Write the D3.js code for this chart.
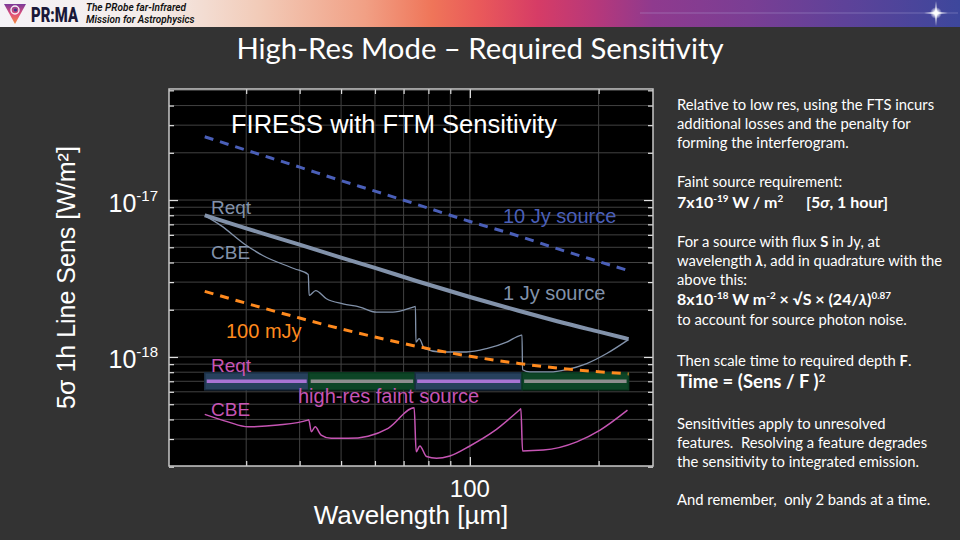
<!DOCTYPE html>
<html><head><meta charset="utf-8">
<script src="https://cdn.jsdelivr.net/npm/d3@7"></script>
<style>body{margin:0;background:#333;} text{font-family:"Liberation Sans",Arial,sans-serif;}</style>
</head><body>
<svg id="c" width="960" height="540"></svg>
<script>
// ---------------- DATA ----------------
const srcLambda = [24, 30, 40, 50, 60, 75, 100, 130, 160, 200, 235];
const src10Jy   = [2.53e-17, 2.08e-17, 1.62e-17, 1.33e-17, 1.14e-17, 9.4e-18, 7.3e-18, 5.9e-18, 4.9e-18, 4.06e-18, 3.55e-18];
const src1Jy    = [8.0e-18, 6.6e-18, 5.2e-18, 4.3e-18, 3.7e-18, 3.05e-18, 2.41e-18, 1.97e-18, 1.69e-18, 1.45e-18, 1.3e-18];
const src100mJy = [2.62e-18, 2.2e-18, 1.77e-18, 1.51e-18, 1.34e-18, 1.17e-18, 1.01e-18, 9.1e-19, 8.5e-19, 8.06e-19, 7.8e-19];

const cbeBrightLambda = [24, 26.2, 29.7, 32.8, 38.9, 41.9, 42.1, 43.6, 46.2, 50.5, 55.3, 60.4, 66.1, 73.7, 74.6, 74.8, 76.1, 78.4, 85.1, 98.2, 109.4, 121.9, 131.5, 132.4, 132.8, 138.2, 153.9, 168.5, 187.6, 208.9, 234.8];
const cbeBrightSens   = [7.95e-18, 6.87e-18, 5.25e-18, 4.43e-18, 3.65e-18, 3.35e-18, 2.47e-18, 2.65e-18, 2.35e-18, 2.18e-18, 2.08e-18, 1.93e-18, 1.93e-18, 2.08e-18, 2.1e-18, 1.245e-18, 1.31e-18, 1.13e-18, 1.076e-18, 1.076e-18, 1.13e-18, 1.245e-18, 1.375e-18, 1.38e-18, 8.3e-19, 8.03e-19, 8.03e-19, 8.32e-19, 9.08e-19, 1.052e-18, 1.29e-18];

const cbeFaintLambda = [24, 27.2, 30.3, 35.6, 41.8, 42.0, 42.6, 43.5, 44.9, 47.4, 51.9, 57.8, 64.4, 74.1, 74.9, 76.4, 79.2, 83.6, 89.8, 100, 113.4, 131.0, 131.6, 132.8, 148.5, 177.8, 201.6, 233.6];
const cbeFaintSens   = [4.31e-19, 3.86e-19, 3.59e-19, 3.68e-19, 3.96e-19, 3.98e-19, 3.34e-19, 3.59e-19, 3.18e-19, 3.03e-19, 3.03e-19, 3.13e-19, 3.51e-19, 4.74e-19, 2.49e-19, 2.71e-19, 2.32e-19, 2.26e-19, 2.34e-19, 2.71e-19, 3.34e-19, 4.63e-19, 4.68e-19, 2.52e-19, 2.55e-19, 2.88e-19, 3.42e-19, 4.58e-19];

const bandStart = [24, 42, 74.5, 132.5];
const bandEnd   = [42, 74.5, 132.5, 235];
const bandReqt  = 7e-19;

const xTicksMajor = [100];
const xTicksMinor = [30, 40, 50, 60, 70, 80, 90, 200];
const yTicksMajor = [1e-18, 1e-17];
const yTicksMinor = [2e-19, 3e-19, 4e-19, 5e-19, 6e-19, 7e-19, 8e-19, 9e-19, 2e-18, 3e-18, 4e-18, 5e-18, 6e-18, 7e-18, 8e-18, 9e-18, 2e-17, 3e-17, 4e-17, 5e-17];
const yTickLabels = ["-18", "-17"];

// ---------------- SETUP ----------------
const svg = d3.select("#c");
const L = 169, R = 653, T = 89, B = 466;
const x = d3.scaleLog().domain([19.8, 268]).range([L, R]);
const y = d3.scaleLog().domain([2.02e-19, 5.1e-17]).range([B, T]);

svg.append("rect").attr("width", 960).attr("height", 540).attr("fill", "#333333");

// header gradient
const defs = svg.append("defs");
const hg = defs.append("linearGradient").attr("id", "hdr").attr("x1", 0).attr("x2", 1).attr("y1", 0).attr("y2", 0);
[[0, "#f5f3f7"], [0.16, "#f4ece9"], [0.27, "#f2cbb8"], [0.38, "#f1a085"], [0.45, "#ef7559"], [0.5, "#e9595a"], [0.56, "#d63c66"], [0.62, "#b7387a"], [0.68, "#8f3a8e"], [0.78, "#7a3e94"], [0.88, "#5e4299"], [1, "#3d479c"]]
  .forEach(([o, c]) => hg.append("stop").attr("offset", o).attr("stop-color", c));
svg.append("rect").attr("width", 960).attr("height", 27).attr("fill", "url(#hdr)");

// logo
const lg = defs.append("linearGradient").attr("id", "logo").attr("x1", 0).attr("x2", 0).attr("y1", 0).attr("y2", 1);
lg.append("stop").attr("offset", 0).attr("stop-color", "#7a3a9a");
lg.append("stop").attr("offset", 0.5).attr("stop-color", "#e0507a");
lg.append("stop").attr("offset", 1).attr("stop-color", "#f28a3c");
svg.append("path").attr("d", "M4,4 L26,4 L15,24 Z").attr("fill", "url(#logo)");
svg.append("circle").attr("cx", 15).attr("cy", 10).attr("r", 4).attr("fill", "none").attr("stroke", "#f5f0f5").attr("stroke-width", 1.4);
svg.append("circle").attr("cx", 15.5).attr("cy", 10).attr("r", 1.6).attr("fill", "#3a3a8a");
svg.append("text").attr("x", 31).attr("y", 22).attr("fill", "#1a1838")
  .style("font-family", "Roboto").style("font-weight", 900).style("font-size", "20px")
  .attr("textLength", 47).attr("lengthAdjust", "spacingAndGlyphs").text("PR:MA");
svg.append("text").attr("x", 86).attr("y", 11).attr("fill", "#111").style("font-style", "italic").style("font-weight", 600)
  .style("font-family", "Roboto").style("font-size", "10px").text("The PRobe far-Infrared");
svg.append("text").attr("x", 86).attr("y", 23).attr("fill", "#111").style("font-style", "italic").style("font-weight", 600)
  .style("font-family", "Roboto").style("font-size", "10px").text("Mission for Astrophysics");

// star
svg.append("line").attr("x1", 640).attr("x2", 958).attr("y1", 13).attr("y2", 13).attr("stroke", "#b8b4e0").attr("stroke-opacity", 0.45).attr("stroke-width", 0.8);
const rg = defs.append("radialGradient").attr("id", "star");
rg.append("stop").attr("offset", 0).attr("stop-color", "#ffffff");
rg.append("stop").attr("offset", 0.35).attr("stop-color", "#ffffff").attr("stop-opacity", 0.9);
rg.append("stop").attr("offset", 1).attr("stop-color", "#ffffff").attr("stop-opacity", 0);
svg.append("circle").attr("cx", 936).attr("cy", 13).attr("r", 6).attr("fill", "url(#star)");
svg.append("path").attr("d", "M936,1 L937,12 L948,13 L937,14 L936,26 L935,14 L924,13 L935,12 Z").attr("fill", "#fff").attr("opacity", 0.9);

// title
svg.append("text").attr("x", 480).attr("y", 59).attr("text-anchor", "middle").attr("fill", "#ffffff")
  .style("font-family", "Lato").style("font-size", "29.3px").text("High-Res Mode \u2013 Required Sensitivity");

// plot background
const g = svg.append("g");
g.append("rect").attr("x", L).attr("y", T).attr("width", R - L).attr("height", B - T).attr("fill", "#000");

// grid
const gridCol = "#424242";
g.selectAll(".vg").data(xTicksMinor.concat(xTicksMajor)).join("line")
  .attr("x1", d => x(d)).attr("x2", d => x(d)).attr("y1", T).attr("y2", B).attr("stroke", gridCol).attr("stroke-width", 1);
g.selectAll(".hg").data(yTicksMinor.concat(yTicksMajor)).join("line")
  .attr("y1", d => y(d)).attr("y2", d => y(d)).attr("x1", L).attr("x2", R).attr("stroke", gridCol).attr("stroke-width", 1);

// axes (inward ticks)
const allX = xTicksMinor.concat(xTicksMajor), allY = yTicksMinor.concat(yTicksMajor);
const isMajX = d => xTicksMajor.includes(d), isMajY = d => yTicksMajor.some(v => Math.abs(v - d) / v < 1e-6);
function styleAxis(sel, attr, sign, major) {
  sel.select(".domain").remove();
  sel.selectAll(".tick line").attr("stroke", "#e0e0e0").attr("stroke-width", 1.2).attr(attr, d => sign * (major(d) ? 9 : 5));
  sel.selectAll(".tick text").remove();
}
g.append("g").attr("transform", `translate(0,${B})`).call(d3.axisBottom(x).tickValues(allX)).call(s => styleAxis(s, "y2", -1, isMajX));
g.append("g").attr("transform", `translate(0,${T})`).call(d3.axisTop(x).tickValues(allX)).call(s => styleAxis(s, "y2", 1, isMajX));
g.append("g").attr("transform", `translate(${L},0)`).call(d3.axisLeft(y).tickValues(allY)).call(s => styleAxis(s, "x2", 1, isMajY));
g.append("g").attr("transform", `translate(${R},0)`).call(d3.axisRight(y).tickValues(allY)).call(s => styleAxis(s, "x2", -1, isMajY));

// bands
const bands = bandStart.map((s, i) => ({ s, e: bandEnd[i], i }));
g.selectAll(".band").data(bands).join("rect")
  .attr("x", d => x(d.s)).attr("width", d => x(d.e) - x(d.s))
  .attr("y", y(bandReqt) - 8.5).attr("height", 17)
  .attr("fill", d => d.i % 2 === 0 ? "#27415d" : "#0d4526")
  .attr("stroke", d => d.i % 2 === 0 ? "#1b2e44" : "#0a3a20").attr("stroke-width", 1.5);
g.selectAll(".bandline").data(bands).join("line")
  .attr("x1", d => x(d.s) + 2).attr("x2", d => x(d.e) - 2)
  .attr("y1", y(bandReqt)).attr("y2", y(bandReqt))
  .attr("stroke", d => d.i % 2 === 0 ? "#a874d4" : "#8e8e8e").attr("stroke-width", 3.5);

// lines
const curve = d3.line().x(d => x(d[0])).y(d => y(d[1])).curve(d3.curveMonotoneX);
const zip = (a, b) => a.map((v, i) => [v, b[i]]);
const slate = "#8292aa";

g.append("path").datum(zip(cbeFaintLambda, cbeFaintSens)).attr("d", curve).attr("fill", "none").attr("stroke", "#c655b4").attr("stroke-width", 1.5);
g.append("path").datum(zip(cbeBrightLambda, cbeBrightSens)).attr("d", curve).attr("fill", "none").attr("stroke", slate).attr("stroke-width", 1.3);
g.append("path").datum(zip(srcLambda, src1Jy)).attr("d", curve).attr("fill", "none").attr("stroke", slate).attr("stroke-width", 4);
g.append("path").datum(zip(srcLambda, src10Jy)).attr("d", curve).attr("fill", "none").attr("stroke", "#4a5fb8").attr("stroke-width", 3).attr("stroke-dasharray", "9,7");
g.append("path").datum(zip(srcLambda, src100mJy)).attr("d", curve).attr("fill", "none").attr("stroke", "#ff8a1e").attr("stroke-width", 3).attr("stroke-dasharray", "9,7");

// frame
g.append("rect").attr("x", L).attr("y", T).attr("width", R - L).attr("height", B - T).attr("fill", "none").attr("stroke", "#c8c8c8").attr("stroke-width", 1.5);

// in-plot labels
const lab = (t, xx, yy, col, fs) => g.append("text").attr("x", xx).attr("y", yy).attr("fill", col).style("font-size", fs + "px").text(t);
lab("FIRESS with FTM Sensitivity", 231, 133, "#ffffff", 25.5);
lab("10 Jy source", 503, 223, "#4a5fb8", 20);
lab("Reqt", 211, 214, slate, 19);
lab("CBE", 211, 259, slate, 19);
lab("1 Jy source", 503, 300, slate, 20);
lab("100 mJy", 226, 338, "#ff8a1e", 20);
lab("Reqt", 211, 372, "#c655b4", 19);
lab("high-res faint source", 298, 403, "#c655b4", 20);
lab("CBE", 211, 416, "#c655b4", 19);

// axis labels
yTicksMajor.forEach((v, i) => {
  const t = svg.append("text").attr("x", 158).attr("y", y(v) + 11.5).attr("text-anchor", "end").attr("fill", "#fff").style("font-size", "25px");
  t.append("tspan").text("10");
  t.append("tspan").attr("dy", -11).style("font-size", "15px").text(yTickLabels[i]);
});
xTicksMajor.forEach(v => svg.append("text").attr("x", x(v)).attr("y", 497).attr("text-anchor", "middle").attr("fill", "#fff").style("font-size", "24px").text(String(v)));
svg.append("text").attr("x", (L + R) / 2).attr("y", 524).attr("text-anchor", "middle").attr("fill", "#fff").style("font-size", "26px").text("Wavelength [\u00b5m]");
svg.append("text").attr("transform", `translate(75,${(T + B) / 2}) rotate(-90)`).attr("text-anchor", "middle").attr("fill", "#fff").style("font-size", "25px").text("5\u03c3 1h Line Sens [W/m\u00b2]");

// right text block
const tx = 677;
const rt = svg.append("g").style("fill", "#ffffff");
function rich(yy, segs, fs, bold) {
  const t = rt.append("text").attr("x", tx).attr("y", yy).style("font-family", "Lato").style("font-size", fs + "px")
    .style("font-weight", bold ? 700 : 400).style("white-space", "pre").attr("fill", "#fff");
  segs.forEach(s => {
    if (typeof s === "string") { t.append("tspan").text(s); return; }
    const ts = t.append("tspan").text(s.t);
    if (s.sup) ts.attr("baseline-shift", "super").style("font-size", (fs * 0.62) + "px");
    if (s.b) ts.style("font-weight", 700);
    if (s.i) ts.style("font-style", "italic");
    if (s.x) ts.attr("x", s.x);
  });
  return t;
}
const fs = 14.8;
rich(110, ["Relative to low res, using the FTS incurs"], fs);
rich(129, ["additional losses and the penalty for"], fs);
rich(148, ["forming the interferogram."], fs);
rich(187, ["Faint source requirement:"], fs);
rich(208, ["7x10", { t: "-19", sup: 1 }, " W / m", { t: "2", sup: 1 }, { t: "[5", x: 806 }, { t: "\u03c3", i: 1 }, ", 1 hour]"], 16, true);
rich(247, ["For a source with flux ", { t: "S", b: 1 }, " in Jy, at"], fs);
rich(266, ["wavelength ", { t: "\u03bb", b: 1, i: 1 }, ", add in quadrature with the"], fs);
rich(285, ["above this:"], fs);
rich(305, ["8x10", { t: "-18", sup: 1 }, " W m", { t: "-2", sup: 1 }, " \u00d7 \u221aS \u00d7 (24/", { t: "\u03bb", i: 1 }, ")", { t: "0.87", sup: 1 }], 16, true);
rich(325, ["to account for source photon noise."], fs);
rich(366, ["Then scale time to required depth ", { t: "F", b: 1 }, "."], fs);
rich(388, ["Time = (Sens / F )", { t: "2", sup: 1 }], 18.5, true);
rich(429, ["Sensitivities apply to unresolved"], fs);
rich(448, ["features.  Resolving a feature degrades"], fs);
rich(467, ["the sensitivity to integrated emission."], fs);
rich(505, ["And remember,  only 2 bands at a time."], fs);
</script>
</body></html>
